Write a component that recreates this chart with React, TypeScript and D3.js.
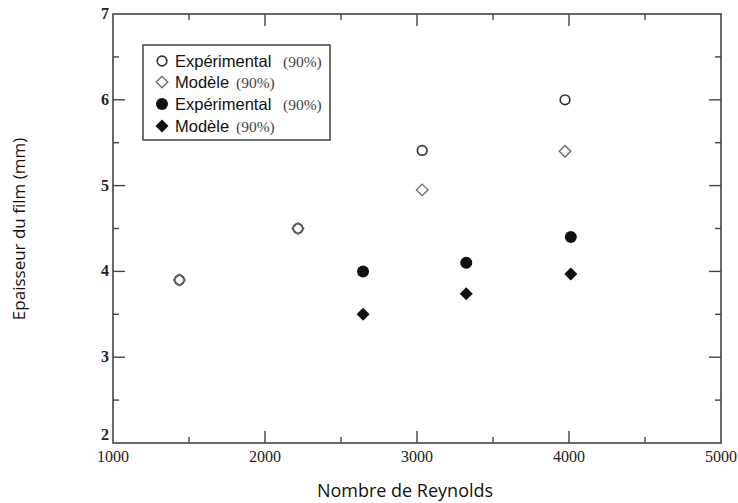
import React from "react";
import * as d3 from "d3";

const expOpenX = [1437, 2217, 3034, 3974];
const expOpenY = [3.9, 4.5, 5.41, 6.0];
const modOpenX = [1437, 2217, 3034, 3974];
const modOpenY = [3.9, 4.5, 4.95, 5.4];
const expFilledX = [2645, 3324, 4012];
const expFilledY = [4.0, 4.1, 4.4];
const modFilledX = [2645, 3324, 4012];
const modFilledY = [3.5, 3.74, 3.97];

const xMajor = [1000, 2000, 3000, 4000, 5000];
const xMinor = [1500, 2500, 3500, 4500];
const yMajor = [2, 3, 4, 5, 6, 7];
const yMinor = [2.5, 3.5, 4.5, 5.5, 6.5];

const legendLabels = ["Expérimental", "Modèle", "Expérimental", "Modèle"];
const legendPct = ["(90%)", "(90%)", "(90%)", "(90%)"];

const W = 738, H = 503;
const L = 113, R = 721, T = 14, B = 443;

export default function App() {
  const x = d3.scaleLinear().domain([1000, 5000]).range([L, R]);
  const y = d3.scaleLinear().domain([2, 7]).range([B, T]);
  const axisColor = "#444";
  const diamond = (cx: number, cy: number, r: number) =>
    `M${cx},${cy - r}L${cx + r},${cy}L${cx},${cy + r}L${cx - r},${cy}Z`;

  const legendRowY = [61, 82, 104, 126];
  const pctX = [283, 236, 283, 236];

  const drawMarker = (kind: number, cx: number, cy: number, key: string) => {
    if (kind === 0)
      return <circle key={key} cx={cx} cy={cy} r={4.8} fill="white" stroke="#333" strokeWidth={1.7} />;
    if (kind === 1)
      return <path key={key} d={diamond(cx, cy, 5.8)} fill="none" stroke="#666" strokeWidth={1.3} />;
    if (kind === 2)
      return <circle key={key} cx={cx} cy={cy} r={6} fill="#111" />;
    return <path key={key} d={diamond(cx, cy, 6.5)} fill="#111" />;
  };

  return (
    <svg width={W} height={H} style={{ position: "absolute", left: 0, top: 0, background: "white" }}>
      <rect x={0} y={0} width={W} height={H} fill="white" />
      <rect x={L} y={T} width={R - L} height={B - T} fill="none" stroke={axisColor} strokeWidth={1.6} />
      {xMajor.slice(1, -1).map((v) => (
        <g key={"xm" + v}>
          <line x1={x(v)} x2={x(v)} y1={B} y2={B - 12} stroke={axisColor} strokeWidth={1.4} />
          <line x1={x(v)} x2={x(v)} y1={T} y2={T + 12} stroke={axisColor} strokeWidth={1.4} />
        </g>
      ))}
      {xMinor.map((v) => (
        <g key={"xn" + v}>
          <line x1={x(v)} x2={x(v)} y1={B} y2={B - 6} stroke={axisColor} strokeWidth={1.4} />
          <line x1={x(v)} x2={x(v)} y1={T} y2={T + 6} stroke={axisColor} strokeWidth={1.4} />
        </g>
      ))}
      {yMajor.slice(1, -1).map((v) => (
        <g key={"ym" + v}>
          <line x1={L} x2={L + 12} y1={y(v)} y2={y(v)} stroke={axisColor} strokeWidth={1.4} />
          <line x1={R} x2={R - 12} y1={y(v)} y2={y(v)} stroke={axisColor} strokeWidth={1.4} />
        </g>
      ))}
      {yMinor.map((v) => (
        <g key={"yn" + v}>
          <line x1={L} x2={L + 6} y1={y(v)} y2={y(v)} stroke={axisColor} strokeWidth={1.4} />
          <line x1={R} x2={R - 6} y1={y(v)} y2={y(v)} stroke={axisColor} strokeWidth={1.4} />
        </g>
      ))}
      {xMajor.map((v) => (
        <text key={"xl" + v} x={x(v)} y={v === 1000 ? 462 : 462} textAnchor="middle"
          fontFamily="'Liberation Serif', serif" fontSize={16} fill="#222">{v}</text>
      ))}
      {yMajor.map((v) => (
        <text key={"yl" + v} x={109} y={y(v) + (v === 2 ? -3 : 5)} textAnchor="end"
          fontFamily="'Liberation Serif', serif" fontSize={16} fontWeight="bold" fill="#222">{v}</text>
      ))}
      <text x={405} y={497} textAnchor="middle" fontFamily="'Open Sans', sans-serif" fontSize={18} fill="#111">
        Nombre de Reynolds
      </text>
      <text transform={`translate(25,229) rotate(-90)`} textAnchor="middle"
        fontFamily="'Open Sans', sans-serif" fontSize={17} fill="#111">
        Epaisseur du film (mm)
      </text>
      {expOpenX.map((v, i) => drawMarker(0, x(v), y(expOpenY[i]), "eo" + i))}
      {modOpenX.map((v, i) => drawMarker(1, x(v), y(modOpenY[i]), "mo" + i))}
      {expFilledX.map((v, i) => drawMarker(2, x(v), y(expFilledY[i]), "ef" + i))}
      {modFilledX.map((v, i) => drawMarker(3, x(v), y(modFilledY[i]), "mf" + i))}
      <rect x={143} y={45} width={187} height={95} fill="white" stroke="#333" strokeWidth={1.4} />
      {legendLabels.map((lab, i) => (
        <g key={"lg" + i}>
          {drawMarker(i, 162, legendRowY[i], "lm" + i)}
          <text x={175} y={legendRowY[i] + 6} fontFamily="'Liberation Sans', Arial, sans-serif" fontSize={16.5} fill="#111">
            {lab}
          </text>
          <text x={pctX[i]} y={legendRowY[i] + 6} fontFamily="'Liberation Serif', serif" fontSize={15.5} fill="#444">
            {legendPct[i]}
          </text>
        </g>
      ))}
    </svg>
  );
}
